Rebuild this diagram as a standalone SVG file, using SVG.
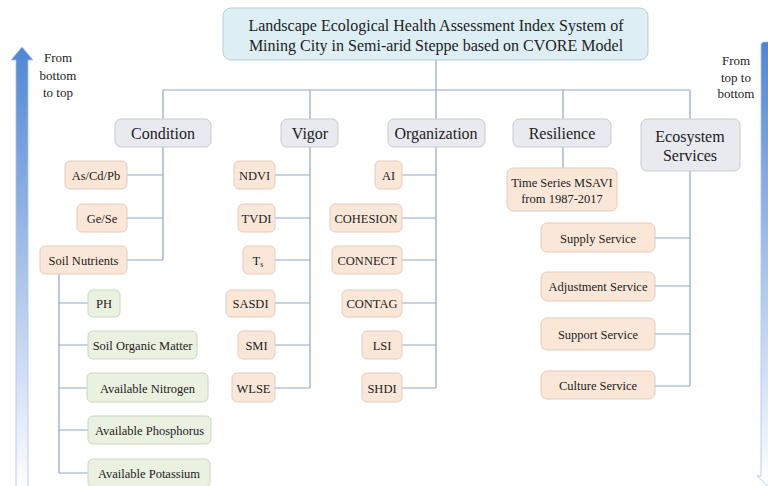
<svg xmlns="http://www.w3.org/2000/svg" width="768" height="486" viewBox="0 0 768 486">
<defs>
<linearGradient id="gUp" x1="0" y1="0" x2="0" y2="1">
<stop offset="0" stop-color="#4f86d4"/>
<stop offset="1" stop-color="#ffffff"/>
</linearGradient>
<linearGradient id="gDown" x1="0" y1="0" x2="0" y2="1">
<stop offset="0" stop-color="#4f86d4"/>
<stop offset="1" stop-color="#ffffff"/>
</linearGradient>
<style>
text{fill:#222;text-anchor:middle}
.t{font-size:16px}
.c{font-size:16px}
.i{font-size:12.5px}
.s{font-size:13px}
.title{fill:#ddeef4;stroke:#b8cdd5;stroke-width:1}
.cat{fill:#e9e9f0;stroke:#c9c9d2;stroke-width:1}
.pe{fill:#fbe7d8;stroke:#e2cdbd;stroke-width:1}
.gr{fill:#ebf1e0;stroke:#cbd6bc;stroke-width:1}
.ln{fill:none;stroke:#8fa6c6;stroke-width:1.2}
</style>
</defs>
<rect width="768" height="486" fill="#fff"/>

<g id="arrow-left">
<path d="M22,47 L33,60 L28,60 L28,490 L16,490 L16,60 L11,60 Z" fill="url(#gUp)" stroke="#a9c3ea" stroke-width="0.8"/>
<g font-family="Liberation Serif, serif">
<text class="s" x="58" y="61.5" font-family="Liberation Serif, serif">From</text>
<text class="s" x="58" y="79.5" font-family="Liberation Serif, serif">bottom</text>
<text class="s" x="58" y="96.5" font-family="Liberation Serif, serif">to top</text>
</g>
</g>
<g id="arrow-right">
<path d="M763,42 L772,42 L772,486 L768,486 L757,476 L761,476 L761,44 Z" fill="url(#gDown)" stroke="#a9c3ea" stroke-width="0.8"/>
<text class="s" x="736" y="64.5" font-family="Liberation Serif, serif">From</text>
<text class="s" x="736" y="81.5" font-family="Liberation Serif, serif">top to</text>
<text class="s" x="736" y="97.5" font-family="Liberation Serif, serif">bottom</text>
</g>

<g id="connectors">
<path class="ln" d="M436,60 V90 M163,90 H690 M163,90 V119 M310,90 V119 M436,90 V119 M563,90 V119 M690,90 V119"/>
<path class="ln" d="M163,147 V260 M127,175 H163 M127,218 H163 M127,260 H163"/>
<path class="ln" d="M59,274 V473 M59,303 H88 M59,345 H88 M59,388 H87 M59,430 H88 M59,473 H88"/>
<path class="ln" d="M310,147 V388 M275,175 H310 M275,218 H310 M275,260 H310 M275,303 H310 M275,345 H310 M275,388 H310"/>
<path class="ln" d="M436,147 V388 M402,175 H436 M402,218 H436 M402,260 H436 M402,303 H436 M402,345 H436 M402,388 H436"/>
<path class="ln" d="M563,147 V168"/>
<path class="ln" d="M690,171 V386 M655,238 H690 M655,286 H690 M655,334 H690 M655,386 H690"/>
</g>

<g id="title">
<rect class="title" x="223" y="8" width="425" height="52" rx="8"/>
<text class="t" x="436" y="30.5" font-family="Liberation Serif, serif">Landscape Ecological Health Assessment Index System of</text>
<text class="t" x="436" y="50.5" font-family="Liberation Serif, serif">Mining City in Semi-arid Steppe based on CVORE Model</text>
</g>

<g id="condition"><rect class="cat" x="115" y="119" width="96" height="28" rx="6"/><text class="c" x="163" y="138.5" font-family="Liberation Serif, serif">Condition</text></g>
<g id="vigor"><rect class="cat" x="281" y="119" width="57" height="28" rx="6"/><text class="c" x="310" y="138.5" font-family="Liberation Serif, serif">Vigor</text></g>
<g id="organization"><rect class="cat" x="388" y="119" width="97" height="28" rx="6"/><text class="c" x="436" y="138.5" font-family="Liberation Serif, serif">Organization</text></g>
<g id="resilience"><rect class="cat" x="513" y="119" width="98" height="28" rx="6"/><text class="c" x="562" y="138.5" font-family="Liberation Serif, serif">Resilience</text></g>
<g id="ecosystem-services"><rect class="cat" x="641" y="119" width="99" height="52" rx="6"/><text class="c" x="690" y="141.5" font-family="Liberation Serif, serif">Ecosystem</text><text class="c" x="690" y="160.5" font-family="Liberation Serif, serif">Services</text></g>

<g id="as-cd-pb"><rect class="pe" x="65" y="161" width="62" height="28" rx="5"/><text class="i" x="96" y="179.5" font-family="Liberation Serif, serif">As/Cd/Pb</text></g>
<g id="ge-se"><rect class="pe" x="77" y="204" width="50" height="28" rx="5"/><text class="i" x="102" y="222.5" font-family="Liberation Serif, serif">Ge/Se</text></g>
<g id="soil-nutrients"><rect class="pe" x="40" y="246" width="87" height="28" rx="5"/><text class="i" x="83.5" y="264.5" font-family="Liberation Serif, serif">Soil Nutrients</text></g>

<g id="ph"><rect class="gr" x="88" y="290" width="32" height="27" rx="5"/><text class="i" x="104" y="308" font-family="Liberation Serif, serif">PH</text></g>
<g id="som"><rect class="gr" x="88" y="331" width="109" height="28" rx="5"/><text class="i" x="142.5" y="349.5" font-family="Liberation Serif, serif">Soil Organic Matter</text></g>
<g id="an"><rect class="gr" x="87" y="373" width="121" height="29" rx="5"/><text class="i" x="147.5" y="392.5" font-family="Liberation Serif, serif">Available Nitrogen</text></g>
<g id="ap"><rect class="gr" x="88" y="416" width="123" height="28" rx="5"/><text class="i" x="149.5" y="434.5" font-family="Liberation Serif, serif">Available Phosphorus</text></g>
<g id="ak"><rect class="gr" x="88" y="459" width="122" height="28" rx="5"/><text class="i" x="149" y="477.5" font-family="Liberation Serif, serif">Available Potassium</text></g>

<g id="ndvi"><rect class="pe" x="234" y="161" width="41" height="28" rx="5"/><text class="i" x="254.5" y="179.5" font-family="Liberation Serif, serif">NDVI</text></g>
<g id="tvdi"><rect class="pe" x="238" y="204" width="37" height="28" rx="5"/><text class="i" x="256.5" y="222.5" font-family="Liberation Serif, serif">TVDI</text></g>
<g id="ts"><rect class="pe" x="243" y="246" width="32" height="28" rx="5"/><text class="i" x="258" y="264.5" font-family="Liberation Serif, serif">T<tspan font-size="8" dy="2">s</tspan></text></g>
<g id="sasdi"><rect class="pe" x="226" y="290" width="49" height="27" rx="5"/><text class="i" x="250.5" y="308" font-family="Liberation Serif, serif">SASDI</text></g>
<g id="smi"><rect class="pe" x="238" y="331" width="37" height="28" rx="5"/><text class="i" x="256.5" y="349.5" font-family="Liberation Serif, serif">SMI</text></g>
<g id="wlse"><rect class="pe" x="232" y="373" width="43" height="29" rx="5"/><text class="i" x="253.5" y="392.5" font-family="Liberation Serif, serif">WLSE</text></g>

<g id="ai"><rect class="pe" x="375" y="161" width="27" height="28" rx="5"/><text class="i" x="388.5" y="179.5" font-family="Liberation Serif, serif">AI</text></g>
<g id="cohesion"><rect class="pe" x="330" y="204" width="72" height="28" rx="5"/><text class="i" x="366" y="222.5" font-family="Liberation Serif, serif">COHESION</text></g>
<g id="connect"><rect class="pe" x="332" y="246" width="70" height="28" rx="5"/><text class="i" x="367" y="264.5" font-family="Liberation Serif, serif">CONNECT</text></g>
<g id="contag"><rect class="pe" x="342" y="290" width="60" height="27" rx="5"/><text class="i" x="372" y="308" font-family="Liberation Serif, serif">CONTAG</text></g>
<g id="lsi"><rect class="pe" x="362" y="331" width="40" height="28" rx="5"/><text class="i" x="382" y="349.5" font-family="Liberation Serif, serif">LSI</text></g>
<g id="shdi"><rect class="pe" x="362" y="373" width="40" height="29" rx="5"/><text class="i" x="382" y="392.5" font-family="Liberation Serif, serif">SHDI</text></g>

<g id="msavi"><rect class="pe" x="507" y="168" width="110" height="43" rx="6"/><text class="i" x="562" y="186.5" font-family="Liberation Serif, serif">Time Series MSAVI</text><text class="i" x="562" y="202.5" font-family="Liberation Serif, serif">from 1987-2017</text></g>

<g id="supply"><rect class="pe" x="541" y="223" width="114" height="29" rx="6"/><text class="i" x="598" y="242.5" font-family="Liberation Serif, serif">Supply Service</text></g>
<g id="adjustment"><rect class="pe" x="541" y="272" width="114" height="29" rx="6"/><text class="i" x="598" y="291" font-family="Liberation Serif, serif">Adjustment Service</text></g>
<g id="support"><rect class="pe" x="541" y="318" width="114" height="32" rx="6"/><text class="i" x="598" y="338.5" font-family="Liberation Serif, serif">Support Service</text></g>
<g id="culture"><rect class="pe" x="541" y="371" width="114" height="28" rx="6"/><text class="i" x="598" y="389.5" font-family="Liberation Serif, serif">Culture Service</text></g>
</svg>
